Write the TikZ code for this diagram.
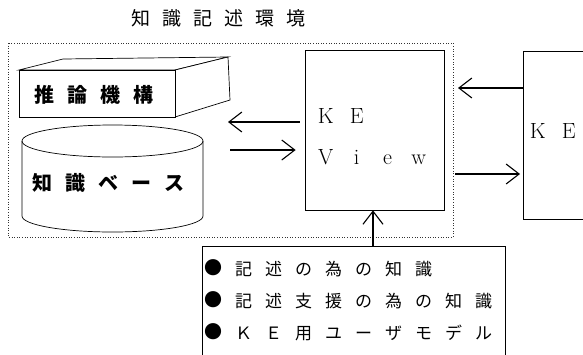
\documentclass[tikz,border=0pt]{standalone}
\usepackage{fontspec}
\newfontfamily\cjk{Noto Sans CJK JP}
\usetikzlibrary{arrows.meta}
% put every character of #2 into a cell of width #1 (fixed pitch)
\def\mygrid#1#2{\def\mypitch{#1}\mygridA#2\relax}
\def\mygridA#1{\ifx#1\relax\else\makebox[\mypitch]{#1}\expandafter\mygridA\fi}
\newcommand\mybullet{{\fontsize{18}{18}\selectfont\raisebox{0.5pt}{●}}}
\tikzset{
  frame/.style={draw=black!80, line width=0.6pt, dotted},
  boxline/.style={draw, line width=0.7pt},
  arr/.style={draw, line width=1.1pt, -{Straight Barb[length=13pt,width=20pt,line width=1.1pt]}},
  lbl/.style={inner sep=0pt, anchor=west},
}
\begin{document}
\begin{tikzpicture}[x=1pt,y=-1pt]
\useasboundingbox (0,0) rectangle (583,354);
% title
\node[lbl] (title) at (125,18) {\cjk\fontsize{19}{19}\selectfont\mygrid{31pt}{知識記述環境}};
% dotted environment frame
\draw[frame] (8,43) rectangle (453,237);
% 3D box
\draw[boxline, fill=white] (19,70) -- (63,59) -- (228,57) -- (175,70) -- cycle;
\draw[boxline, fill=white] (175,70) -- (228,57) -- (230,100) -- (175,117) -- cycle;
\draw[boxline, fill=white] (19,70) rectangle (175,117);
\node[lbl] (inf) at (27.5,95) {\cjk\bfseries\fontsize{20}{20}\selectfont\mygrid{33pt}{推論機構}};
% cylinder
\draw[boxline] (22,141) -- (22,216) arc[start angle=180, end angle=360, x radius=90.5, y radius=-16] -- (203,141);
\draw[boxline] (112.5,141) ellipse[x radius=90.5, y radius=16];
\node[lbl] (kb) at (25.5,183) {\cjk\bfseries\fontsize{20}{20}\selectfont\mygrid{33pt}{知識ベース}};
% KE View box
\node[boxline, minimum width=139pt, minimum height=160pt, inner sep=0pt] (view) at (374.5,130) {};
\node[lbl] (ke1) at (310,116) {\fontsize{22}{22}\selectfont\mygrid{31pt}{KE}};
\node[lbl] (ke2) at (310,157) {\fontsize{22}{22}\selectfont\mygrid{31pt}{View}};
% right KE box
\coordinate (r1) at (590,51);
\coordinate (r2) at (523,51);
\coordinate (r3) at (523,219);
\coordinate (r4) at (590,219);
\draw[boxline] (r1) -- (r2) -- (r3) -- (r4);
\node[lbl] (ke3) at (522,131) {\fontsize{22}{22}\selectfont\mygrid{31pt}{KE}};
% bottom knowledge box
\coordinate (b1) at (202,360);
\coordinate (b2) at (202,246);
\coordinate (b3) at (505,246);
\coordinate (b4) at (505,360);
\draw[boxline] (b1) -- (b2) -- (b3) -- (b4);
\node[lbl] (l1) at (198.5,268) {\cjk\fontsize{17}{17}\selectfont\makebox[30pt]{\mybullet}\mygrid{30pt}{記述の為の知識}};
\node[lbl] (l2) at (198.5,300) {\cjk\fontsize{17}{17}\selectfont\makebox[30pt]{\mybullet}\mygrid{30pt}{記述支援の為の知識}};
\node[lbl] (l3) at (198.5,332) {\cjk\fontsize{17}{17}\selectfont\makebox[30pt]{\mybullet}\mygrid{30pt}{ＫＥ用ユーザモデル}};
% arrows
\coordinate (c1) at (228,122);
\coordinate (c2) at (230,150);
\draw[arr] (view.west |- c1) ++(-5,0) -- (c1);
\draw[arr] (c2) -- ([xshift=-9pt]view.west |- c2);
\coordinate (k1) at (458,88);
\coordinate (k2) at (455,174);
\draw[arr] (r2 |- k1) -- (k1);
\draw[arr] (k2) -- ([xshift=-3pt]r2 |- k2);
\coordinate (u1) at (373,246);
\draw[arr] (u1) -- (u1 |- view.south);
\end{tikzpicture}
\end{document}
